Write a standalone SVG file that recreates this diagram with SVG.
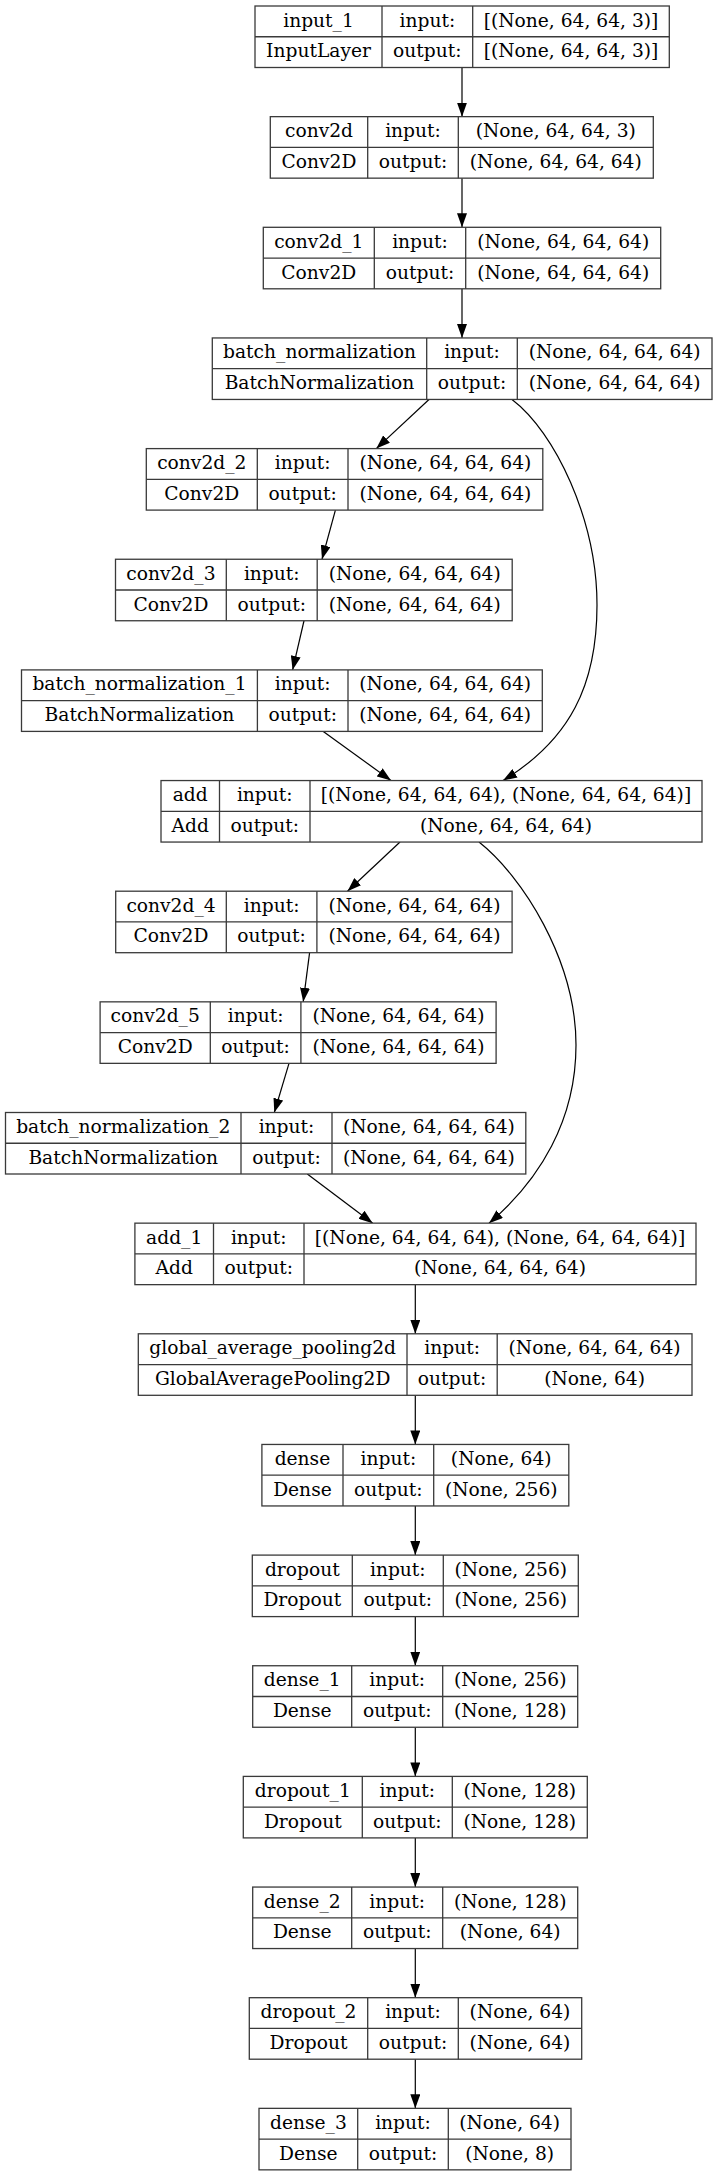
<svg xmlns="http://www.w3.org/2000/svg" width="717" height="2176" viewBox="0 0 717 2176">
<style>
.b{fill:#fff;stroke:#3a3a3a;stroke-width:1.3}
.d{stroke:#3a3a3a;stroke-width:1.3;fill:none}
text{font-family:"DejaVu Serif","Liberation Serif",serif;font-size:18.67px;fill:#000;text-anchor:middle}
.e{stroke:#000;stroke-width:1.2;fill:none;marker-end:url(#ah)}
</style>
<defs>
<marker id="ah" markerUnits="userSpaceOnUse" viewBox="0 0 14 10" refX="14" refY="5" markerWidth="14" markerHeight="10" orient="auto">
<path d="M0,0 L14,5 L0,10 z" fill="#000"/>
</marker>
</defs>
<rect width="717" height="2176" fill="#fff"/>
<g id="connectors">
<path class="e" d="M462,67.5 L462,116.65"/>
<path class="e" d="M462,178.15 L462,227.3"/>
<path class="e" d="M462,288.8 L462,337.95"/>
<path class="e" d="M429,399.45 L376.3,448.6"/>
<path class="e" d="M335.4,510.1 L322,559.25"/>
<path class="e" d="M304,620.75 L292.6,669.9"/>
<path class="e" d="M323.3,731.4 L391,780.55"/>
<path class="e" d="M512,399.45 C555,432 597,520 597,605 C597,685 570,740 503,780.55"/>
<path class="e" d="M400,842.05 L347.5,891.2"/>
<path class="e" d="M309.6,952.7 L303.2,1001.85"/>
<path class="e" d="M289,1063.35 L274.3,1112.5"/>
<path class="e" d="M307.3,1174 L372.7,1223.15"/>
<path class="e" d="M479,842.05 C522,876 576,960 576,1045 C576,1120 540,1180 489,1223.15"/>
<path class="e" d="M415.3,1284.65 L415.3,1333.8"/>
<path class="e" d="M415.3,1395.3 L415.3,1444.45"/>
<path class="e" d="M415.3,1505.95 L415.3,1555.1"/>
<path class="e" d="M415.3,1616.6 L415.3,1665.75"/>
<path class="e" d="M415.3,1727.25 L415.3,1776.4"/>
<path class="e" d="M415.3,1837.9 L415.3,1887.05"/>
<path class="e" d="M415.3,1948.55 L415.3,1997.7"/>
<path class="e" d="M415.3,2059.2 L415.3,2108.35"/>
</g>
<g id="input_1">
<rect class="b" x="255" y="6" width="414.3" height="61.5"/>
<path class="d" d="M382,6 V67.5 M472.7,6 V67.5 M255,36.75 H669.3"/>
<text x="318.5" y="26.5">input_1</text><text x="427.35" y="26.5">input:</text><text x="571" y="26.5">[(None, 64, 64, 3)]</text>
<text x="318.5" y="57.25">InputLayer</text><text x="427.35" y="57.25">output:</text><text x="571" y="57.25">[(None, 64, 64, 3)]</text>
</g>
<g id="conv2d">
<rect class="b" x="270.3" y="116.65" width="383" height="61.5"/>
<path class="d" d="M367.7,116.65 V178.15 M458.3,116.65 V178.15 M270.3,147.4 H653.3"/>
<text x="319" y="137.15">conv2d</text><text x="413" y="137.15">input:</text><text x="555.8" y="137.15">(None, 64, 64, 3)</text>
<text x="319" y="167.9">Conv2D</text><text x="413" y="167.9">output:</text><text x="555.8" y="167.9">(None, 64, 64, 64)</text>
</g>
<g id="conv2d_1">
<rect class="b" x="263.3" y="227.3" width="397.4" height="61.5"/>
<path class="d" d="M374.3,227.3 V288.8 M465.7,227.3 V288.8 M263.3,258.05 H660.7"/>
<text x="318.8" y="247.8">conv2d_1</text><text x="420" y="247.8">input:</text><text x="563.2" y="247.8">(None, 64, 64, 64)</text>
<text x="318.8" y="278.55">Conv2D</text><text x="420" y="278.55">output:</text><text x="563.2" y="278.55">(None, 64, 64, 64)</text>
</g>
<g id="batch_normalization">
<rect class="b" x="212.3" y="337.95" width="499.7" height="61.5"/>
<path class="d" d="M426.7,337.95 V399.45 M517.3,337.95 V399.45 M212.3,368.7 H712"/>
<text x="319.5" y="358.45">batch_normalization</text><text x="472" y="358.45">input:</text><text x="614.65" y="358.45">(None, 64, 64, 64)</text>
<text x="319.5" y="389.2">BatchNormalization</text><text x="472" y="389.2">output:</text><text x="614.65" y="389.2">(None, 64, 64, 64)</text>
</g>
<g id="conv2d_2">
<rect class="b" x="146.3" y="448.6" width="396.5" height="61.5"/>
<path class="d" d="M257.3,448.6 V510.1 M348,448.6 V510.1 M146.3,479.35 H542.8"/>
<text x="201.8" y="469.1">conv2d_2</text><text x="302.65" y="469.1">input:</text><text x="445.4" y="469.1">(None, 64, 64, 64)</text>
<text x="201.8" y="499.85">Conv2D</text><text x="302.65" y="499.85">output:</text><text x="445.4" y="499.85">(None, 64, 64, 64)</text>
</g>
<g id="conv2d_3">
<rect class="b" x="115.5" y="559.25" width="396.7" height="61.5"/>
<path class="d" d="M226.3,559.25 V620.75 M317.2,559.25 V620.75 M115.5,590 H512.2"/>
<text x="170.9" y="579.75">conv2d_3</text><text x="271.75" y="579.75">input:</text><text x="414.7" y="579.75">(None, 64, 64, 64)</text>
<text x="170.9" y="610.5">Conv2D</text><text x="271.75" y="610.5">output:</text><text x="414.7" y="610.5">(None, 64, 64, 64)</text>
</g>
<g id="batch_normalization_1">
<rect class="b" x="21.5" y="669.9" width="520.8" height="61.5"/>
<path class="d" d="M257.4,669.9 V731.4 M348,669.9 V731.4 M21.5,700.65 H542.3"/>
<text x="139.45" y="690.4">batch_normalization_1</text><text x="302.7" y="690.4">input:</text><text x="445.15" y="690.4">(None, 64, 64, 64)</text>
<text x="139.45" y="721.15">BatchNormalization</text><text x="302.7" y="721.15">output:</text><text x="445.15" y="721.15">(None, 64, 64, 64)</text>
</g>
<g id="add">
<rect class="b" x="161" y="780.55" width="541" height="61.5"/>
<path class="d" d="M219.5,780.55 V842.05 M310,780.55 V842.05 M161,811.3 H702"/>
<text x="190.25" y="801.05">add</text><text x="264.75" y="801.05">input:</text><text x="506" y="801.05">[(None, 64, 64, 64), (None, 64, 64, 64)]</text>
<text x="190.25" y="831.8">Add</text><text x="264.75" y="831.8">output:</text><text x="506" y="831.8">(None, 64, 64, 64)</text>
</g>
<g id="conv2d_4">
<rect class="b" x="115.7" y="891.2" width="396.4" height="61.5"/>
<path class="d" d="M226.3,891.2 V952.7 M316.9,891.2 V952.7 M115.7,921.95 H512.1"/>
<text x="171" y="911.7">conv2d_4</text><text x="271.6" y="911.7">input:</text><text x="414.5" y="911.7">(None, 64, 64, 64)</text>
<text x="171" y="942.45">Conv2D</text><text x="271.6" y="942.45">output:</text><text x="414.5" y="942.45">(None, 64, 64, 64)</text>
</g>
<g id="conv2d_5">
<rect class="b" x="100.1" y="1001.85" width="396" height="61.5"/>
<path class="d" d="M210.3,1001.85 V1063.35 M300.9,1001.85 V1063.35 M100.1,1032.6 H496.1"/>
<text x="155.2" y="1022.35">conv2d_5</text><text x="255.6" y="1022.35">input:</text><text x="398.5" y="1022.35">(None, 64, 64, 64)</text>
<text x="155.2" y="1053.1">Conv2D</text><text x="255.6" y="1053.1">output:</text><text x="398.5" y="1053.1">(None, 64, 64, 64)</text>
</g>
<g id="batch_normalization_2">
<rect class="b" x="5.5" y="1112.5" width="520.3" height="61.5"/>
<path class="d" d="M241,1112.5 V1174 M332,1112.5 V1174 M5.5,1143.25 H525.8"/>
<text x="123.25" y="1133">batch_normalization_2</text><text x="286.5" y="1133">input:</text><text x="428.9" y="1133">(None, 64, 64, 64)</text>
<text x="123.25" y="1163.75">BatchNormalization</text><text x="286.5" y="1163.75">output:</text><text x="428.9" y="1163.75">(None, 64, 64, 64)</text>
</g>
<g id="add_1">
<rect class="b" x="134.9" y="1223.15" width="561.1" height="61.5"/>
<path class="d" d="M213.5,1223.15 V1284.65 M304,1223.15 V1284.65 M134.9,1253.9 H696"/>
<text x="174.2" y="1243.65">add_1</text><text x="258.75" y="1243.65">input:</text><text x="500" y="1243.65">[(None, 64, 64, 64), (None, 64, 64, 64)]</text>
<text x="174.2" y="1274.4">Add</text><text x="258.75" y="1274.4">output:</text><text x="500" y="1274.4">(None, 64, 64, 64)</text>
</g>
<g id="global_average_pooling2d">
<rect class="b" x="138.3" y="1333.8" width="553.7" height="61.5"/>
<path class="d" d="M407,1333.8 V1395.3 M497.2,1333.8 V1395.3 M138.3,1364.55 H692"/>
<text x="272.65" y="1354.3">global_average_pooling2d</text><text x="452.1" y="1354.3">input:</text><text x="594.6" y="1354.3">(None, 64, 64, 64)</text>
<text x="272.65" y="1385.05">GlobalAveragePooling2D</text><text x="452.1" y="1385.05">output:</text><text x="594.6" y="1385.05">(None, 64)</text>
</g>
<g id="dense">
<rect class="b" x="261.9" y="1444.45" width="306.9" height="61.5"/>
<path class="d" d="M343,1444.45 V1505.95 M433.7,1444.45 V1505.95 M261.9,1475.2 H568.8"/>
<text x="302.45" y="1464.95">dense</text><text x="388.35" y="1464.95">input:</text><text x="501.25" y="1464.95">(None, 64)</text>
<text x="302.45" y="1495.7">Dense</text><text x="388.35" y="1495.7">output:</text><text x="501.25" y="1495.7">(None, 256)</text>
</g>
<g id="dropout">
<rect class="b" x="252.3" y="1555.1" width="326" height="61.5"/>
<path class="d" d="M352.3,1555.1 V1616.6 M443.3,1555.1 V1616.6 M252.3,1585.85 H578.3"/>
<text x="302.3" y="1575.6">dropout</text><text x="397.8" y="1575.6">input:</text><text x="510.8" y="1575.6">(None, 256)</text>
<text x="302.3" y="1606.35">Dropout</text><text x="397.8" y="1606.35">output:</text><text x="510.8" y="1606.35">(None, 256)</text>
</g>
<g id="dense_1">
<rect class="b" x="252.7" y="1665.75" width="325" height="61.5"/>
<path class="d" d="M351.7,1665.75 V1727.25 M442.7,1665.75 V1727.25 M252.7,1696.5 H577.7"/>
<text x="302.2" y="1686.25">dense_1</text><text x="397.2" y="1686.25">input:</text><text x="510.2" y="1686.25">(None, 256)</text>
<text x="302.2" y="1717">Dense</text><text x="397.2" y="1717">output:</text><text x="510.2" y="1717">(None, 128)</text>
</g>
<g id="dropout_1">
<rect class="b" x="243.3" y="1776.4" width="344" height="61.5"/>
<path class="d" d="M362.3,1776.4 V1837.9 M452.3,1776.4 V1837.9 M243.3,1807.15 H587.3"/>
<text x="302.8" y="1796.9">dropout_1</text><text x="407.3" y="1796.9">input:</text><text x="519.8" y="1796.9">(None, 128)</text>
<text x="302.8" y="1827.65">Dropout</text><text x="407.3" y="1827.65">output:</text><text x="519.8" y="1827.65">(None, 128)</text>
</g>
<g id="dense_2">
<rect class="b" x="252.7" y="1887.05" width="325" height="61.5"/>
<path class="d" d="M351.7,1887.05 V1948.55 M442.7,1887.05 V1948.55 M252.7,1917.8 H577.7"/>
<text x="302.2" y="1907.55">dense_2</text><text x="397.2" y="1907.55">input:</text><text x="510.2" y="1907.55">(None, 128)</text>
<text x="302.2" y="1938.3">Dense</text><text x="397.2" y="1938.3">output:</text><text x="510.2" y="1938.3">(None, 64)</text>
</g>
<g id="dropout_2">
<rect class="b" x="249.3" y="1997.7" width="332.4" height="61.5"/>
<path class="d" d="M367.7,1997.7 V2059.2 M458.3,1997.7 V2059.2 M249.3,2028.45 H581.7"/>
<text x="308.5" y="2018.2">dropout_2</text><text x="413" y="2018.2">input:</text><text x="520" y="2018.2">(None, 64)</text>
<text x="308.5" y="2048.95">Dropout</text><text x="413" y="2048.95">output:</text><text x="520" y="2048.95">(None, 64)</text>
</g>
<g id="dense_3">
<rect class="b" x="259" y="2108.35" width="312" height="61.5"/>
<path class="d" d="M357.7,2108.35 V2169.85 M448.3,2108.35 V2169.85 M259,2139.1 H571"/>
<text x="308.35" y="2128.85">dense_3</text><text x="403" y="2128.85">input:</text><text x="509.65" y="2128.85">(None, 64)</text>
<text x="308.35" y="2159.6">Dense</text><text x="403" y="2159.6">output:</text><text x="509.65" y="2159.6">(None, 8)</text>
</g>
</svg>
